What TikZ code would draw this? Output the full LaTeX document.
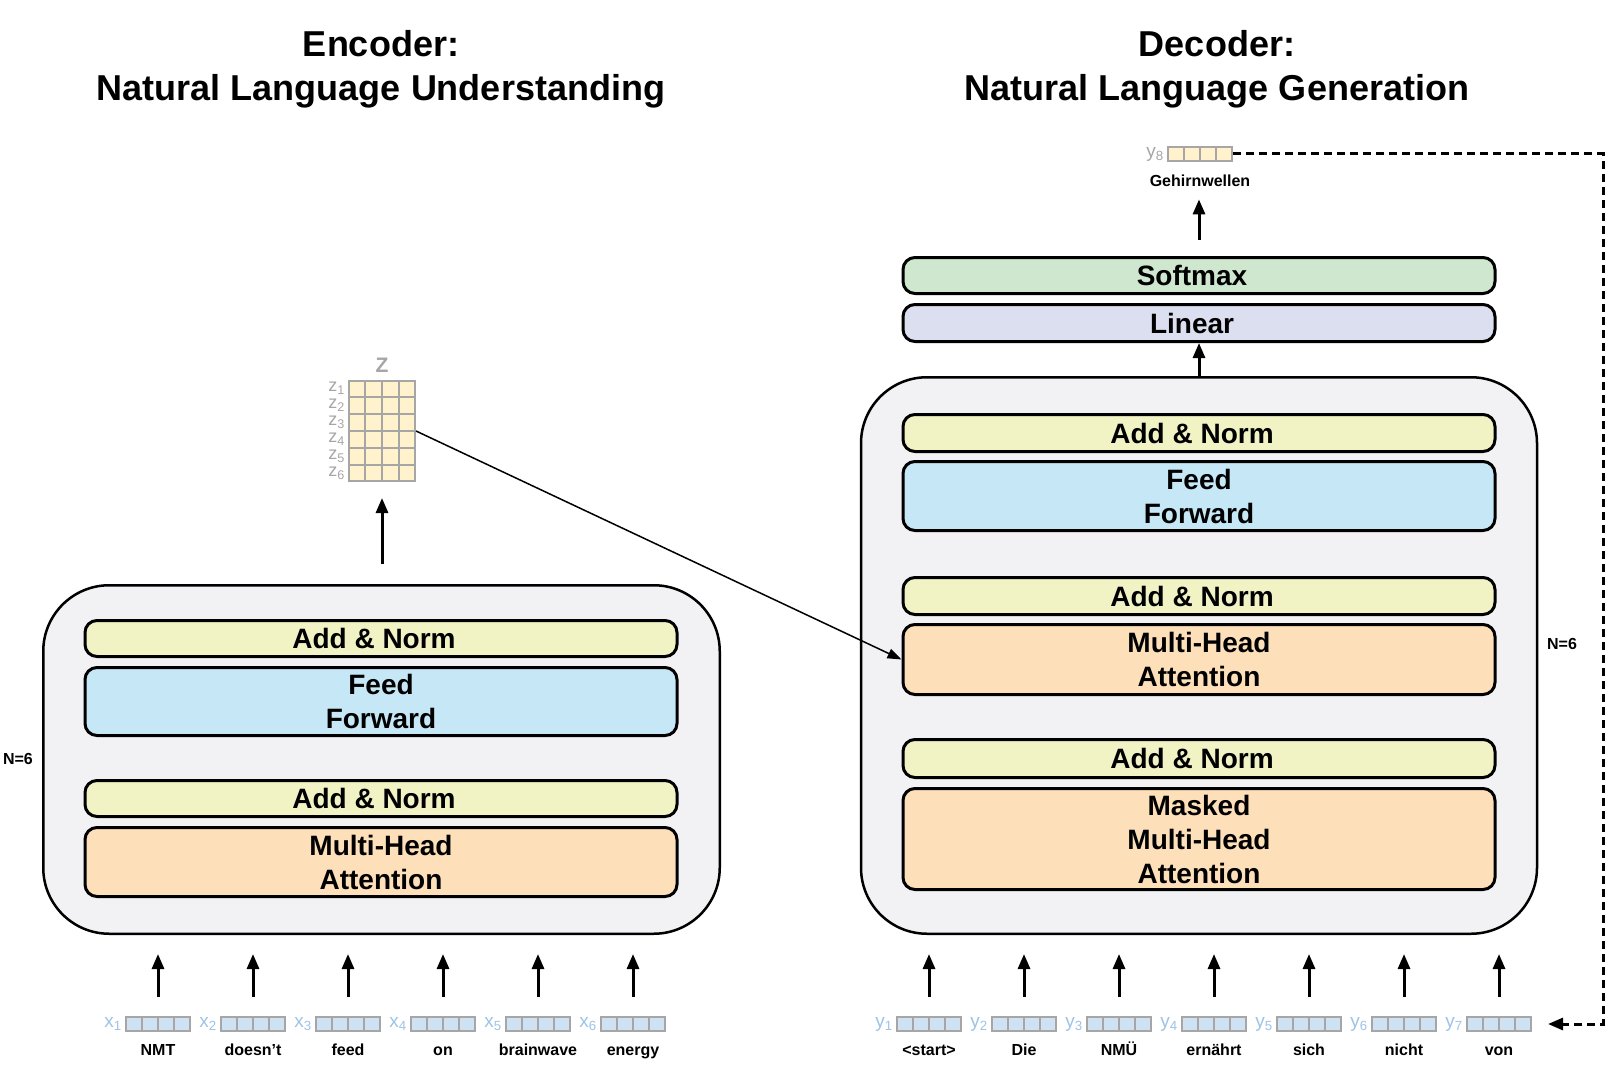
\documentclass[tikz,border=0pt]{standalone}
\usepackage{fontspec}
\setmainfont{Liberation Sans}
\usetikzlibrary{positioning, arrows.meta, calc}
\definecolor{normfill}{RGB}{241,243,196}
\definecolor{fffill}{RGB}{197,231,246}
\definecolor{attfill}{RGB}{253,223,185}
\definecolor{softfill}{RGB}{206,231,206}
\definecolor{linfill}{RGB}{220,223,240}
\definecolor{stackfill}{RGB}{242,242,245}
\definecolor{vecfill}{RGB}{207,226,243}
\definecolor{veclab}{RGB}{157,195,230}
\definecolor{zfill}{RGB}{255,242,204}
\definecolor{cellgray}{RGB}{166,166,166}

\begin{document}
\begin{tikzpicture}[x=1pt, y=-1pt,
    layer/.style={draw, line width=3pt, rounded corners=12pt, minimum width=592pt, inner sep=0pt, align=center, font=\fontsize{28}{34}\selectfont\bfseries},
    oneline/.style={execute at end node={\hspace*{14pt}}},
    stack/.style={draw, line width=2.5pt, rounded corners=66pt, fill=stackfill},
    arr/.style={line width=3pt, -{Triangle[length=15pt, width=12pt]}},
    word/.style={font=\fontsize{16}{16}\selectfont\bfseries, inner sep=0pt, text height=12pt, text depth=3pt},
    vec/.style={draw=cellgray, fill=#1, line width=2pt, minimum width=64pt, minimum height=14pt, inner sep=0pt,
        path picture={\foreach \c in {1,2,3} \draw[cellgray, line width=2pt] ($(path picture bounding box.south west)!\c/4!(path picture bounding box.south east)$) -- ($(path picture bounding box.north west)!\c/4!(path picture bounding box.north east)$);}},
    veclabel/.style={font=\fontsize{19}{19}\selectfont, inner sep=0pt},
    title/.style={font=\fontsize{36}{44}\selectfont\bfseries, align=center}
]
    \useasboundingbox (0,0) rectangle (1617,1070);

    % Titles
    \node[title] (enctitle) at (381,69) {Encoder:\\Natural Language Understanding};
    \node[title] (dectitle) at (1217,69) {Decoder:\\Natural Language Generation};

    % Encoder stack
    \node[stack, minimum width=676.5pt, minimum height=348.5pt] (encbox) at (381.5,759.5) {};
    \node[layer, fill=attfill, minimum height=69pt] (emha) at (381,862) {Multi-Head\\Attention};
    \node[layer, oneline, fill=normfill, minimum height=36pt, above=8pt of emha] (enorm1) {Add \& Norm};
    \node[layer, fill=fffill, minimum height=68pt, above=42pt of enorm1] (eff) {Feed\\Forward};
    \node[layer, oneline, fill=normfill, minimum height=36pt, above=8pt of eff] (enorm2) {Add \& Norm};
    \node[word, left=9pt of encbox] (nenc) {N=6};

    % Z output
    \node[draw=cellgray, fill=zfill, line width=2pt, minimum width=66pt, minimum height=100pt, inner sep=0pt] (zmat) at (382,431) {};
    \foreach \c in {1,2,3}
        \draw[cellgray, line width=2pt] ($(zmat.south west)!\c/4!(zmat.south east)$) -- ($(zmat.north west)!\c/4!(zmat.north east)$);
    \foreach \r in {1,...,5}
        \draw[cellgray, line width=2pt] ($(zmat.north west)!\r/6!(zmat.south west)$) -- ($(zmat.north east)!\r/6!(zmat.south east)$);
    \node[veclabel, cellgray, font=\fontsize{21}{21}\selectfont\bfseries, above=7pt of zmat] (zname) {Z};
    \foreach \r in {1,...,6}
        \node[veclabel, cellgray, font=\fontsize{18}{18}\selectfont, anchor=east] (zl\r) at (345,{371.5+17*\r}) {z\textsubscript{\r}};
    \draw[arr, shorten <=20pt, shorten >=16pt] (encbox.north -| zmat.south) -- (zmat.south);

    % Decoder stack
    \node[stack, minimum width=676pt, minimum height=556.5pt] (decbox) at (1199,655.5) {};
    \node[layer, fill=attfill, minimum height=101pt] (dmmha) at (1199,839) {Masked\\Multi-Head\\Attention};
    \node[layer, oneline, fill=normfill, minimum height=38pt, above=8pt of dmmha] (dnorm1) {Add \& Norm};
    \node[layer, fill=attfill, minimum height=70pt, above=42pt of dnorm1] (dmha) {Multi-Head\\Attention};
    \node[layer, oneline, fill=normfill, minimum height=37pt, above=7pt of dmha] (dnorm2) {Add \& Norm};
    \node[layer, fill=fffill, minimum height=69pt, above=44pt of dnorm2] (dff) {Feed\\Forward};
    \node[layer, oneline, fill=normfill, minimum height=37pt, above=7pt of dff] (dnorm3) {Add \& Norm};
    \node[word] (ndec) at (1562,645) {N=6};

    % Linear and Softmax
    \node[layer, oneline, fill=linfill, minimum height=37pt] (linear) at (1199,323) {Linear};
    \node[layer, oneline, fill=softfill, minimum height=36pt, above=8pt of linear] (softmax) {Softmax};
    \draw[arr] (decbox.north) -- (linear.south);

    % Output word
    \node[vec=zfill] (y8) at (1200,154) {};
    \node[veclabel, cellgray, left=3pt of y8] (yl8) {y\textsubscript{8}};
    \node[word, below=12pt of y8] (gehirn) {Gehirnwellen};
    \draw[arr, shorten <=16pt, shorten >=10pt] (softmax.north) -- (softmax.north |- gehirn.south);

    % Encoder inputs
    \foreach \w [count=\i] in {NMT, doesn’t, feed, on, brainwave, energy} {
        \node[vec=vecfill] (x\i) at ({63+95*\i},1024) {};
        \node[veclabel, veclab, left=3pt of x\i] (xl\i) {x\textsubscript{\i}};
        \node[word, below=11pt of x\i] (xw\i) {\w};
        \draw[arr, shorten <=19pt, shorten >=19pt] (x\i.north) -- (x\i.north |- encbox.south);
    }

    % Decoder inputs
    \foreach \w [count=\i] in {<start>, Die, NMÜ, ernährt, sich, nicht, von} {
        \node[vec=vecfill] (y\i) at ({834+95*\i},1024) {};
        \node[veclabel, veclab, left=3pt of y\i] (yl\i) {y\textsubscript{\i}};
        \node[word, below=11pt of y\i] (yw\i) {\w};
        \draw[arr, shorten <=19pt, shorten >=19pt] (y\i.north) -- (y\i.north |- decbox.south);
    }

    % Encoder output into decoder attention
    \draw[line width=1.5pt, -{Triangle[length=14pt, width=10pt]}] (zmat.east) -- (dmha.west);

    % Feedback of the generated word
    \coordinate (loopx) at (1603,0);
    \draw[line width=3pt, dash pattern=on 8pt off 5pt, -{Triangle[length=15pt, width=12pt]}, shorten >=16pt] (y8.east) -- (y8.east -| loopx) |- (y7.east);
\end{tikzpicture}
\end{document}
